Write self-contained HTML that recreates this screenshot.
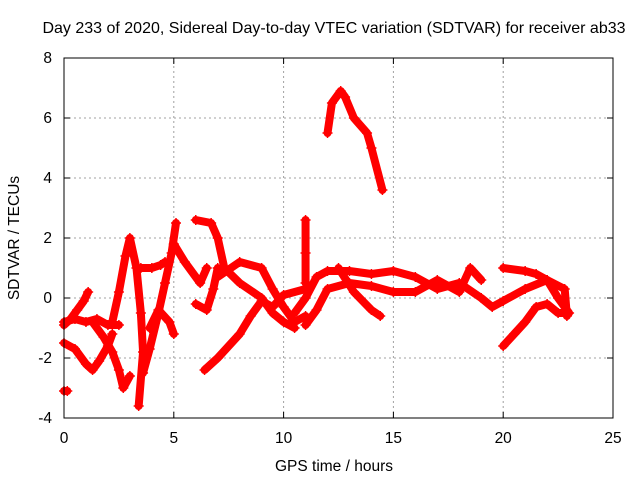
<!DOCTYPE html>
<html><head><meta charset="utf-8"><style>
body{margin:0;background:#fff;font-family:"Liberation Sans",sans-serif}
svg text{font-family:"Liberation Sans",sans-serif;font-size:15.5px;fill:#000}
</style></head><body>
<svg id="chart" width="640" height="480" viewBox="0 0 640 480" xmlns="http://www.w3.org/2000/svg">
<rect width="640" height="480" fill="#fff"/>
<text x="334" y="33" text-anchor="middle" style="font-size:16px">Day 233 of 2020, Sidereal Day-to-day VTEC variation (SDTVAR) for receiver ab33</text>
<g id="grid"></g>
<g id="ticks"></g>
<g id="marks"></g>
<rect x="64" y="58" width="549" height="360" fill="none" stroke="#000" stroke-width="1"/>
<text x="334" y="471" text-anchor="middle">GPS time / hours</text>
<text x="0" y="0" text-anchor="middle" transform="translate(19,238) rotate(-90)">SDTVAR / TECUs</text>
</svg>
<script>
const xTicks=[0,5,10,15,20,25];
const yTicks=[-4,-2,0,2,4,6,8];
const trackA=[[0,-0.9],[0.3,-0.7],[0.6,-0.4],[0.9,-0.1],[1.1,0.2]];
const trackB=[[0,-0.8],[0.5,-0.7],[1,-0.8],[1.5,-0.7],[2,-0.9],[2.5,-0.9]];
const trackC=[[1.3,-0.8],[1.8,-1.3],[2.2,-1.8],[2.5,-2.4],[2.7,-3.0],[3.0,-2.6]];
const trackD=[[0,-1.5],[0.5,-1.7],[1,-2.2],[1.3,-2.4],[1.6,-2.1],[2.0,-1.6],[2.2,-1.2]];
const trackE=[[0,-3.1],[0.15,-3.1]];
const trackF=[[2.2,-0.8],[2.5,0.2],[2.8,1.4],[3.0,2.0],[3.3,1.0],[3.5,-0.5],[3.6,-1.8],[3.4,-3.6]];
const trackG=[[3.5,1.0],[4.0,1.0],[4.4,1.1],[4.6,1.2]];
const trackH=[[3.6,-2.5],[3.9,-1.7],[4.3,-0.5],[4.6,0.5],[4.9,1.5],[5.1,2.5]];
const trackI=[[3.9,-1.0],[4.3,-0.4],[4.8,-0.8],[5.0,-1.2]];
const trackJ=[[5.0,1.8],[5.5,1.2],[6.2,0.5],[6.5,1.0]];
const trackK=[[6.0,2.6],[6.7,2.5],[7.0,2.0],[7.3,1.0],[8.0,0.5],[9.0,0.0],[9.5,-0.5],[10.0,-0.8],[10.5,-1.0]];
const trackL=[[6.0,-0.2],[6.5,-0.4],[6.8,0.3],[7.0,1.0]];
const trackM=[[6.4,-2.4],[7.0,-2.0],[8.0,-1.2],[8.5,-0.6],[9.0,-0.1],[9.5,-0.3],[10.0,0.1],[11.0,0.3]];
const trackN=[[7.0,0.7],[8.0,1.2],[9.0,1.0],[9.5,0.3],[10.0,-0.3],[10.5,-0.8],[11.0,-0.6]];
const trackO=[[10.5,-0.5],[11,0],[11.5,0.7],[12,0.9],[13,0.9],[14,0.8],[15,0.9],[16,0.7],[17,0.3],[18,0.5],[19,0],[19.5,-0.3],[20,-0.1],[21,0.3],[22,0.6],[22.5,0.0],[23,-0.5]];
const trackP=[[11,-0.9],[11.5,-0.4],[12,0.3],[13,0.5],[14,0.4],[15,0.2],[16,0.2],[17,0.6],[18,0.2],[18.5,1.0],[19,0.6]];
const trackQ=[[11,2.6],[11,1.5],[11,0.5]];
const trackR=[[12.5,1.0],[13.2,0.2],[14,-0.4],[14.4,-0.6]];
const trackS=[[12,5.5],[12.2,6.5],[12.6,6.9],[12.8,6.7],[13.2,6.0],[13.8,5.5],[14,5.0],[14.5,3.6]];
const trackT=[[20,-1.6],[20.5,-1.2],[21,-0.8],[21.5,-0.3],[22,-0.2],[22.5,-0.5],[22.8,-0.5]];
const trackU=[[20,1.0],[21,0.9],[21.5,0.8],[22,0.6],[22.8,0.3],[22.9,-0.6]];
const tracks=[trackA,trackB,trackC,trackD,trackE,trackF,trackG,trackH,trackI,trackJ,trackK,trackL,trackM,trackN,trackO,trackP,trackQ,trackR,trackS,trackT,trackU];
const NS='http://www.w3.org/2000/svg';
const X0=64,X1=613,Y0=418,Y1=58;
function sx(t){return X0+(t-0)/(25-0)*(X1-X0);}
function sy(v){return Y0-(v-(-4))/(8-(-4))*(Y0-Y1);}
const grid=document.getElementById('grid'),ticks=document.getElementById('ticks'),marks=document.getElementById('marks');
function mk(tag,attrs,parent){const e=document.createElementNS(NS,tag);for(const k in attrs)e.setAttribute(k,attrs[k]);parent.appendChild(e);return e;}
xTicks.forEach(t=>{const x=sx(t);
 if(t>0&&t<25){const g=mk('line',{x1:x,x2:x,y1:Y0,y2:Y1,stroke:'#a0a0a0','stroke-dasharray':'2,3'},grid);
 
 }
 mk('line',{x1:x,x2:x,y1:Y0,y2:Y0-6,stroke:'#000'},ticks);
 mk('line',{x1:x,x2:x,y1:Y1,y2:Y1+6,stroke:'#000'},ticks);
 const l=mk('text',{x:x,y:Y0+25,'text-anchor':'middle'},ticks);l.textContent=t;
 
 
});
yTicks.forEach(v=>{const y=sy(v);
 if(v>-4&&v<8){const g=mk('line',{x1:X0,x2:X1,y1:y,y2:y,stroke:'#a0a0a0','stroke-dasharray':'2,3'},grid);
 
 }
 mk('line',{x1:X0,x2:X0+6,y1:y,y2:y,stroke:'#000'},ticks);
 mk('line',{x1:X1,x2:X1-6,y1:y,y2:y,stroke:'#000'},ticks);
 const l=mk('text',{x:X0-12,y:y+5,'text-anchor':'end'},ticks);l.textContent=v;
 
 
});
tracks.forEach(tr=>{
 const pl=mk('polyline',{points:tr.map(p=>sx(p[0])+','+sy(p[1])).join(' '),fill:'none',stroke:'#ff0000','stroke-width':8,'stroke-linejoin':'round','stroke-linecap':'round'},marks);
 
 
 tr.forEach(p=>{const x=sx(p[0]),y=sy(p[1]);
  const m=mk('path',{d:`M${x-5},${y}H${x+5}M${x},${y-5}V${y+5}`,stroke:'#ff0000','stroke-width':1.5},marks);
  
  
 });
});
</script>
</body></html>
